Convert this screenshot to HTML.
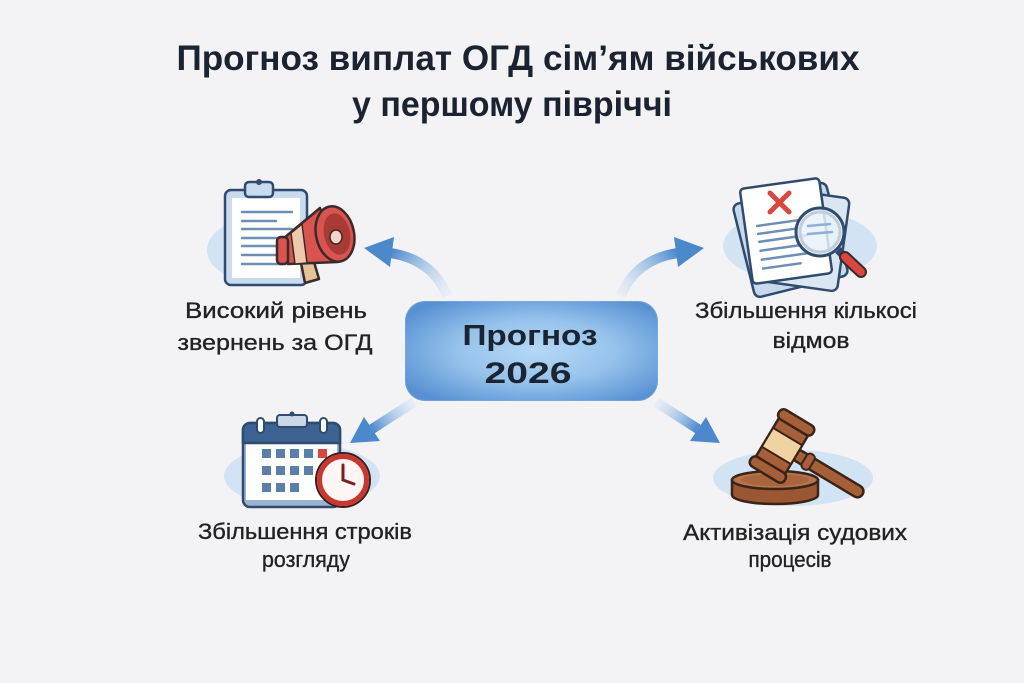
<!DOCTYPE html>
<html><head><meta charset="utf-8"><style>
html,body{margin:0;padding:0;background:#f3f3f6;}
svg{display:block;}
text{font-family:"Liberation Sans","DejaVu Sans",sans-serif;}
</style></head><body>
<svg width="1024" height="683" viewBox="0 0 1024 683" xmlns="http://www.w3.org/2000/svg">
<defs>
<radialGradient id="box" cx="0.52" cy="0.5" r="0.62">
<stop offset="0" stop-color="#b5d8f5"/>
<stop offset="0.5" stop-color="#96c3ec"/>
<stop offset="1" stop-color="#5891d3"/>
</radialGradient>
<linearGradient id="a1" gradientUnits="userSpaceOnUse" x1="447" y1="296" x2="390" y2="253">
<stop offset="0" stop-color="#cfe2f5" stop-opacity="0.3"/><stop offset="1" stop-color="#4b88cc"/></linearGradient>
<linearGradient id="a2" gradientUnits="userSpaceOnUse" x1="621" y1="296" x2="678" y2="253">
<stop offset="0" stop-color="#cfe2f5" stop-opacity="0.3"/><stop offset="1" stop-color="#4b88cc"/></linearGradient>
<linearGradient id="a3" gradientUnits="userSpaceOnUse" x1="414" y1="402" x2="372" y2="429">
<stop offset="0" stop-color="#cfe2f5" stop-opacity="0.3"/><stop offset="1" stop-color="#4b88cc"/></linearGradient>
<linearGradient id="a4" gradientUnits="userSpaceOnUse" x1="656" y1="402" x2="698" y2="429">
<stop offset="0" stop-color="#cfe2f5" stop-opacity="0.3"/><stop offset="1" stop-color="#4b88cc"/></linearGradient>
</defs>
<rect width="1024" height="683" fill="#f3f3f6"/>

<!-- Title -->
<text x="518" y="70" font-size="35" font-weight="bold" fill="#1b2330" text-anchor="middle" textLength="683" lengthAdjust="spacingAndGlyphs">Прогноз виплат ОГД сім’ям військових</text>
<text x="512" y="116" font-size="35" font-weight="bold" fill="#1b2330" text-anchor="middle" textLength="320" lengthAdjust="spacingAndGlyphs">у першому півріччі</text>

<!-- Arrows -->
<path d="M447,296 C438,272 418,257 390,253" fill="none" stroke="url(#a1)" stroke-width="10"/>
<polygon points="364,248 394,237 390,267" fill="#4b88cc"/>
<path d="M621,296 C630,272 650,257 678,253" fill="none" stroke="url(#a2)" stroke-width="10"/>
<polygon points="704,248 674,237 678,267" fill="#4b88cc"/>
<path d="M414,402 L372,429" fill="none" stroke="url(#a3)" stroke-width="10"/>
<polygon points="350,443 380,441 364,417" fill="#4b88cc"/>
<path d="M656,402 L698,429" fill="none" stroke="url(#a4)" stroke-width="10"/>
<polygon points="720,443 690,441 706,417" fill="#4b88cc"/>

<!-- Center box -->
<rect x="405" y="301" width="253" height="100" rx="20" fill="url(#box)"/>
<rect x="405.5" y="301.5" width="252" height="99" rx="20" fill="none" stroke="#7fb0e2" stroke-opacity="0.5"/>
<text x="530" y="345" font-size="29" font-weight="bold" fill="#1c2431" text-anchor="middle" textLength="135" lengthAdjust="spacingAndGlyphs">Прогноз</text>
<text x="528" y="383" font-size="30" font-weight="bold" fill="#1c2431" text-anchor="middle" textLength="87" lengthAdjust="spacingAndGlyphs">2026</text>

<!-- Icon 1: clipboard + megaphone -->
<ellipse cx="264" cy="250" rx="57" ry="34" fill="#d2e3f4"/>
<rect x="225" y="190" width="82" height="95" rx="6" fill="#c9dbef" stroke="#2f4b6e" stroke-width="2.5"/>
<rect x="232" y="198" width="68" height="80" fill="#ffffff"/>
<rect x="245" y="182" width="28" height="15" rx="4" fill="#c9dbef" stroke="#2f4b6e" stroke-width="2.5"/>
<circle cx="259" cy="182" r="3" fill="#2f4b6e"/>
<g stroke="#6e8fb5" stroke-width="2.5" stroke-linecap="round">
<line x1="242" y1="212" x2="292" y2="212"/>
<line x1="242" y1="221" x2="276" y2="221"/>
<line x1="242" y1="229" x2="292" y2="229"/>
<line x1="242" y1="238" x2="284" y2="238"/>
<line x1="242" y1="246" x2="288" y2="246"/>
<line x1="242" y1="255" x2="284" y2="255"/>
<line x1="242" y1="264" x2="282" y2="264"/>
</g>
<polygon points="300,258 312,255 319,279 305,283" fill="#e5c496" stroke="#3b2a2a" stroke-width="2.5" stroke-linejoin="round"/>
<polygon points="284,238 320,208 338,262 288,264" fill="#d9534f" stroke="#3b2a2a" stroke-width="2.5" stroke-linejoin="round"/>
<polygon points="291,233 302,224 307,263 295,264" fill="#efc9ad" stroke="#3b2a2a" stroke-width="1.5"/>
<rect x="277" y="237" width="11" height="27" rx="4" fill="#d9534f" stroke="#3b2a2a" stroke-width="2.5"/>
<ellipse cx="335" cy="234" rx="19" ry="28" transform="rotate(-12 335 234)" fill="#d9534f" stroke="#3b2a2a" stroke-width="2.5"/>
<ellipse cx="337" cy="234" rx="13" ry="21" transform="rotate(-12 337 234)" fill="#a93b37"/>
<ellipse cx="336" cy="237" rx="6" ry="7" fill="#f6d3cb" stroke="#3b2a2a" stroke-width="1.5"/>

<!-- Icon 2: papers + magnifier -->
<ellipse cx="800" cy="246" rx="77" ry="36" fill="#d2e3f4"/>
<g transform="rotate(-14 790 238)">
<rect x="742" y="192" width="96" height="96" rx="6" fill="#c8d9ee" stroke="#2f4b6e" stroke-width="2.5"/>
</g>
<g transform="rotate(8 800 238)">
<rect x="758" y="192" width="86" height="94" rx="6" fill="#dbe6f3" stroke="#2f4b6e" stroke-width="2.5"/>
</g>
<g transform="rotate(-8 786 231)">
<rect x="746" y="183" width="80" height="96" rx="4" fill="#ffffff" stroke="#2f4b6e" stroke-width="2.5"/>
<g stroke="#6e8fb5" stroke-width="2.5" stroke-linecap="round">
<line x1="758" y1="222" x2="806" y2="222"/>
<line x1="758" y1="230" x2="800" y2="230"/>
<line x1="758" y1="238" x2="806" y2="238"/>
<line x1="758" y1="247" x2="800" y2="247"/>
<line x1="758" y1="256" x2="806" y2="256"/>
<line x1="758" y1="265" x2="796" y2="265"/>
</g>
</g>
<g stroke="#d9473f" stroke-width="5" stroke-linecap="round">
<line x1="770" y1="193" x2="789" y2="212"/>
<line x1="789" y1="193" x2="770" y2="212"/>
</g>
<line x1="838" y1="250" x2="843" y2="255" stroke="#2f4b6e" stroke-width="8"/>
<line x1="845" y1="257" x2="861" y2="272" stroke="#3b2a2a" stroke-width="12" stroke-linecap="round"/>
<line x1="845" y1="257" x2="861" y2="272" stroke="#d9473f" stroke-width="8" stroke-linecap="round"/>
<circle cx="820" cy="232" r="24" fill="#e8f1fb" fill-opacity="0.85" stroke="#2f4b6e" stroke-width="3"/>
<circle cx="820" cy="232" r="20" fill="none" stroke="#c3ced9" stroke-width="3"/>
<g stroke="#8fb0d3" stroke-width="2.5" stroke-linecap="round">
<line x1="808" y1="226" x2="830" y2="224"/>
<line x1="808" y1="234" x2="832" y2="232"/>
</g>

<!-- Icon 3: calendar + clock -->
<ellipse cx="302" cy="476" rx="78" ry="32" fill="#d2e3f4"/>
<rect x="243" y="423" width="97" height="84" rx="7" fill="#9ab3d1" stroke="#2f4b6e" stroke-width="2.5"/>
<rect x="246" y="443" width="91" height="57" fill="#ffffff"/>
<path d="M250,423 h83 a7,7 0 0 1 7,7 v13 h-97 v-13 a7,7 0 0 1 7,-7z" fill="#3d6393" stroke="#2f4b6e" stroke-width="2.5"/>
<rect x="257" y="418" width="7" height="15" rx="3.5" fill="#ffffff" stroke="#2f4b6e" stroke-width="2"/>
<rect x="320" y="418" width="7" height="15" rx="3.5" fill="#ffffff" stroke="#2f4b6e" stroke-width="2"/>
<rect x="277" y="415" width="30" height="12" rx="3" fill="#c9d7e6" stroke="#2f4b6e" stroke-width="2"/>
<circle cx="292" cy="414" r="2.5" fill="#2f4b6e"/>
<g fill="#5b7fa8">
<rect x="262" y="449" width="9" height="9"/><rect x="276" y="449" width="9" height="9"/><rect x="290" y="449" width="9" height="9"/><rect x="304" y="449" width="9" height="9"/>
<rect x="262" y="466" width="9" height="9"/><rect x="276" y="466" width="9" height="9"/><rect x="290" y="466" width="9" height="9"/><rect x="304" y="466" width="9" height="9"/>
<rect x="262" y="483" width="9" height="9"/><rect x="276" y="483" width="9" height="9"/><rect x="290" y="483" width="9" height="9"/>
</g>
<rect x="318" y="449" width="9" height="9" fill="#d9473f"/>
<circle cx="343" cy="480" r="27" fill="#ffffff" stroke="#3b2020" stroke-width="2"/>
<circle cx="343" cy="480" r="23.5" fill="#fdf6f4" stroke="#c9382f" stroke-width="5"/>
<g stroke="#7a2020" stroke-width="3" stroke-linecap="round">
<line x1="343" y1="480" x2="343" y2="465"/>
<line x1="343" y1="480" x2="354" y2="484"/>
</g>

<!-- Icon 4: gavel -->
<ellipse cx="793" cy="478" rx="80" ry="28" fill="#d2e3f4"/>
<path d="M732,480 v15 a43,9 0 0 0 86,0 v-15z" fill="#9b5734" stroke="#3a2418" stroke-width="2.5"/>
<ellipse cx="775" cy="480" rx="43" ry="9" fill="#b8744a" stroke="#3a2418" stroke-width="2.5"/>
<ellipse cx="775" cy="480" rx="34" ry="6" fill="#a9653d"/>
<g transform="translate(782,446) rotate(31)">
<rect x="14" y="-6" width="80" height="12" rx="6" fill="#a5603a" stroke="#3a2418" stroke-width="2.5"/>
<rect x="26" y="-8.5" width="9" height="17" rx="4" fill="#a5603a" stroke="#3a2418" stroke-width="2"/>
<rect x="-17" y="-26" width="34" height="52" rx="4" fill="#a5603a" stroke="#3a2418" stroke-width="2.5"/>
<rect x="-17" y="-11" width="34" height="22" fill="#efd3a3" stroke="#3a2418" stroke-width="2"/>
<rect x="-20" y="-33" width="40" height="11" rx="5" fill="#a5603a" stroke="#3a2418" stroke-width="2.5"/>
<rect x="-20" y="22" width="40" height="11" rx="5" fill="#a5603a" stroke="#3a2418" stroke-width="2.5"/>
</g>

<!-- Labels -->
<g font-size="22" fill="#222222" stroke="#222222" stroke-width="0.35" text-anchor="middle">
<text x="276" y="318" textLength="182" lengthAdjust="spacingAndGlyphs">Високий рівень</text>
<text x="275" y="350" textLength="195" lengthAdjust="spacingAndGlyphs">звернень за ОГД</text>
<text x="806" y="318" textLength="222" lengthAdjust="spacingAndGlyphs">Збільшення кількосі</text>
<text x="811" y="348" textLength="77" lengthAdjust="spacingAndGlyphs">відмов</text>
<text x="305" y="539" textLength="214" lengthAdjust="spacingAndGlyphs">Збільшення строків</text>
<text x="306" y="567" textLength="88" lengthAdjust="spacingAndGlyphs">розгляду</text>
<text x="795" y="540" textLength="224" lengthAdjust="spacingAndGlyphs">Активізація судових</text>
<text x="790" y="567" textLength="83" lengthAdjust="spacingAndGlyphs">процесів</text>
</g>
</svg>
</body></html>
